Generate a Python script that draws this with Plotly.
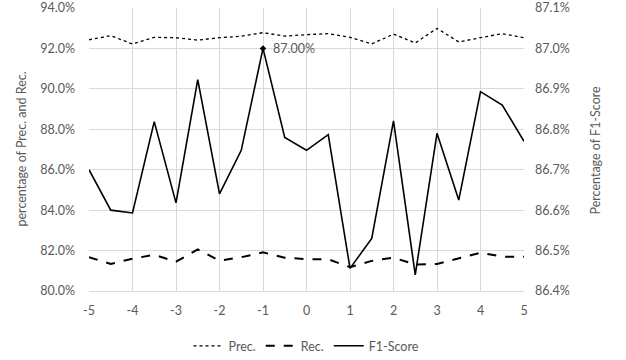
import plotly.graph_objects as go

x_vals = [-5, -4.5, -4, -3.5, -3, -2.5, -2, -1.5, -1, -0.5, 0, 0.5, 1, 1.5, 2, 2.5, 3, 3.5, 4, 4.5, 5]
prec = [92.43, 92.63, 92.22, 92.55, 92.53, 92.41, 92.53, 92.60, 92.78, 92.61, 92.68, 92.73,
        92.55, 92.22, 92.71, 92.27, 92.99, 92.32, 92.53, 92.73, 92.53]
rec = [81.67, 81.34, 81.60, 81.79, 81.45, 82.06, 81.50, 81.67, 81.91, 81.65, 81.57, 81.57,
       81.18, 81.49, 81.65, 81.31, 81.34, 81.62, 81.89, 81.70, 81.70]
f1 = [86.70, 86.60, 86.593, 86.819, 86.618, 86.923, 86.64, 86.748, 87.00, 86.78, 86.748, 86.787,
      86.456, 86.53, 86.821, 86.44, 86.79, 86.625, 86.893, 86.86, 86.77]
peak_x = -1
peak_val = 87.00

x_ticks = [-5, -4, -3, -2, -1, 0, 1, 2, 3, 4, 5]
x_tick_text = ["-5", "-4", "-3", "-2", "-1", "0", "1", "2", "3", "4", "5"]
left_ticks = [80, 82, 84, 86, 88, 90, 92, 94]
right_ticks = [86.4, 86.5, 86.6, 86.7, 86.8, 86.9, 87.0, 87.1]
left_title = "percentage of Prec. and Rec."
right_title = "Percentage of F1-Score"

font_fam = "Lato, 'Open Sans', sans-serif"
gray = "#595959"
fs = 12.5

fig = go.Figure()
fig.add_trace(go.Scatter(x=x_vals, y=prec, name="Prec.", mode="lines",
                         line=dict(color="black", width=1.3, dash="dot")))
fig.add_trace(go.Scatter(x=x_vals, y=rec, name="Rec.", mode="lines",
                         line=dict(color="black", width=2, dash="dash")))
fig.add_trace(go.Scatter(x=x_vals, y=f1, name="F1-Score", mode="lines",
                         line=dict(color="black", width=1.6), yaxis="y2"))
fig.add_trace(go.Scatter(x=[peak_x], y=[peak_val], mode="markers", yaxis="y2",
                         marker=dict(symbol="diamond", size=5, color="black"),
                         showlegend=False, hoverinfo="skip"))
fig.add_annotation(x=peak_x, y=peak_val, xref="x", yref="y2", text=f"{peak_val:.2f}%",
                   showarrow=False, xanchor="left", xshift=8,
                   font=dict(family=font_fam, size=fs, color=gray))
fig.add_annotation(x=-0.1563, y=0.5, xref="paper", yref="paper", text=left_title,
                   textangle=-90, showarrow=False, xanchor="center", yanchor="middle",
                   font=dict(family=font_fam, size=fs, color=gray))
fig.add_annotation(x=1.1655, y=0.5, xref="paper", yref="paper", text=right_title,
                   textangle=-90, showarrow=False, xanchor="center", yanchor="middle",
                   font=dict(family=font_fam, size=fs, color=gray))

fig.update_layout(
    width=626, height=360,
    margin=dict(l=89, r=102, t=8, b=69, autoexpand=False),
    paper_bgcolor="white", plot_bgcolor="white",
    font=dict(family=font_fam, size=fs, color=gray),
    xaxis=dict(range=[-5, 5], tickvals=x_ticks, ticktext=x_tick_text, showgrid=True,
               gridcolor="#d9d9d9", gridwidth=1, zeroline=False, showline=True,
               linecolor="#d9d9d9", ticks="", ticklabelstandoff=8, automargin=False,
               tickfont=dict(size=fs, color=gray)),
    yaxis=dict(range=[80, 94], tickvals=left_ticks,
               ticktext=[f"{v:.1f}%" for v in left_ticks],
               showgrid=True, gridcolor="#d9d9d9", zeroline=False, ticks="",
               ticklabelstandoff=13, automargin=False, ticklabeloverflow="allow",
               tickfont=dict(size=fs, color=gray)),
    yaxis2=dict(range=[86.4, 87.1], tickvals=right_ticks,
                ticktext=[f"{v:.1f}%" for v in right_ticks],
                overlaying="y", side="right", showgrid=False, zeroline=False, ticks="",
                ticklabelstandoff=10, automargin=False, ticklabeloverflow="allow",
                tickfont=dict(size=fs, color=gray)),
    legend=dict(orientation="h", x=0.5, xanchor="center", y=-0.195, yanchor="middle",
                font=dict(size=fs, color=gray)),
    showlegend=True,
)

fig.write_html("out.html", config={"displayModeBar": False},
               post_script="document.body.style.margin='0';")
